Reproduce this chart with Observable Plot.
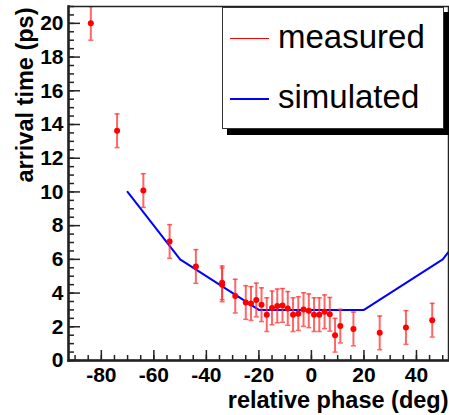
<!DOCTYPE html>
<html><head><meta charset="utf-8">
<script src="https://cdn.jsdelivr.net/npm/d3@7"></script>
<script src="https://cdn.jsdelivr.net/npm/@observablehq/plot@0.6"></script>
<style>body{margin:0;background:#fff} svg{display:block}</style>
</head><body><div id="chart"></div>
<script>
const measPhase = [-84,-74,-64,-54,-44,-34,-34,-29,-25,-23,-21,-19,-17,-15,-13,-11,-9,-7,-5,-3,-1,1,3,5,7,9,11,16,26,36,46];
const measTime  = [20.0,13.63,10.08,7.06,5.58,4.61,4.49,3.82,3.44,3.38,3.59,3.31,2.72,3.12,3.24,3.27,3.09,2.72,2.78,3.02,2.95,2.72,2.72,2.89,2.74,1.50,2.04,1.87,1.64,1.96,2.39];
const measErr   = [1,1,1,1,1,1,1,1,1,1,1,1,1,1,1,1,1,1,1,1,1,1,1,1,1,1,1,1,1,1,1];
const simPhase = [-70,-50,-20,20,50,60];
const simTime  = [10,6,3,3,6,8];
const xTicks = [-80,-60,-40,-20,0,20,40];
const xMinor = d3.range(-90, 51, 5);
const yTicks = [0,2,4,6,8,10,12,14,16,18,20];
const yMinor = d3.range(0, 21.01, 0.5);
const legendLabels = ["measured","simulated"];
const legendColors = ["#ff0000","#0000ff"];
const xLabel = "relative phase (deg)";
const yLabel = "arrival time (ps)";

const meas = measPhase.map((x,i)=>({x, y: measTime[i], lo: measTime[i]-measErr[i], hi: measTime[i]+measErr[i]}));
const sim = simPhase.map((x,i)=>({x, y: simTime[i]}));

const capSymbol = {draw(ctx, size){ const w = Math.sqrt(size/Math.PI); ctx.moveTo(-w,0); ctx.lineTo(w,0); }};
const font = "Liberation Sans, Arial, Helvetica, sans-serif";

const chart = Plot.plot({
  width: 449, height: 415,
  marginLeft: 68, marginRight: 1, marginTop: 6, marginBottom: 55,
  style: {fontFamily: font, background: "#fff"},
  x: {domain: [-92.5, 52.2], label: null},
  y: {domain: [0, 21], label: null},
  marks: [
    Plot.line(sim, {x: "x", y: "y", stroke: "#0000ff", strokeWidth: 2, clip: true}),
    Plot.ruleX(meas, {x: "x", y1: "lo", y2: "hi", stroke: "#ff3333", strokeOpacity: 0.75, strokeWidth: 2, clip: true}),
    Plot.dot(meas, {x: "x", y: "lo", symbol: capSymbol, r: 2.5, stroke: "#ff3333", strokeOpacity: 0.75, strokeWidth: 1.5, fill: "none", clip: true}),
    Plot.dot(meas, {x: "x", y: "hi", symbol: capSymbol, r: 2.5, stroke: "#ff3333", strokeOpacity: 0.75, strokeWidth: 1.5, fill: "none", clip: true}),
    Plot.dot(meas, {x: "x", y: "y", r: 3, fill: "#ff0000", stroke: "none"}),
    Plot.axisX({ticks: xMinor, tickSize: -5, tickFormat: () => "", label: null, stroke: "#222", strokeWidth: 1.5}),
    Plot.axisX({ticks: xTicks, tickSize: -10, tickFormat: () => "", label: null, stroke: "#222", strokeWidth: 1.5}),
    Plot.axisX({ticks: xTicks, tickSize: 0, tickPadding: 7, fontSize: 21, fontWeight: "bold", fill: "#000", label: null, tickFormat: d => d < 0 ? "-" + Math.abs(d) : String(d)}),
    Plot.axisY({ticks: yMinor, tickSize: -6, tickFormat: () => "", label: null, stroke: "#222", strokeWidth: 1.5}),
    Plot.axisY({ticks: yTicks, tickSize: -12, tickFormat: () => "", label: null, stroke: "#222", strokeWidth: 1.5}),
    Plot.axisY({ticks: yTicks, tickSize: 0, tickPadding: 5, fontSize: 21, fontWeight: "bold", fill: "#000", label: null}),
    Plot.frame({stroke: "#222", strokeWidth: 1.5}),
    Plot.frame({anchor: "left", stroke: "#222", strokeWidth: 2.5}),
    Plot.frame({anchor: "bottom", stroke: "#222", strokeWidth: 2.5}),
    Plot.text([xLabel], {text: d => d, frameAnchor: "bottom-right", textAnchor: "end", lineAnchor: "middle", dy: 39.5, fontSize: 23.5, fontWeight: "bold", fill: "#000"}),
    Plot.text([yLabel], {text: d => d, frameAnchor: "top-left", rotate: -90, textAnchor: "end", lineAnchor: "middle", dx: -43, dy: 1, fontSize: 23.5, fontWeight: "bold", fill: "#000"})
  ]
});
document.getElementById("chart").appendChild(chart);

// legend box (ROOT TLegend style with shadow)
const svg = d3.select(chart);
const g = svg.append("g").attr("text-anchor", "start");
g.append("rect").attr("x", 227).attr("y", 12).attr("width", 222).attr("height", 123).attr("fill", "#000");
g.append("rect").attr("x", 222.5).attr("y", 7.5).attr("width", 221).attr("height", 121).attr("fill", "#fff").attr("stroke", "#333").attr("stroke-width", 1);
const rowsY = [38.5, 99];
legendLabels.forEach((lab, i) => {
  g.append("line").attr("x1", 230).attr("x2", 269).attr("y1", rowsY[i]).attr("y2", rowsY[i])
    .attr("stroke", legendColors[i]).attr("stroke-width", i === 0 ? 1 : 2);
  g.append("text").attr("x", 278).attr("y", Math.round(rowsY[i]) + 9).attr("text-anchor", "start")
    .attr("font-family", font).attr("font-size", 33).attr("font-weight", "normal")
    .attr("fill", "#000").text(lab);
});
</script>
</body></html>
